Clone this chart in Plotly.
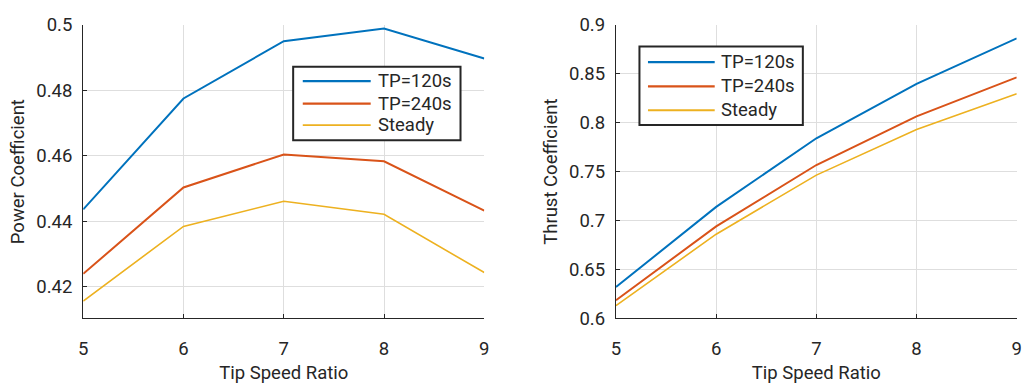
import plotly.graph_objects as go

tsr = [5, 6, 7, 8, 9]
series_names = ["TP=120s", "TP=240s", "Steady"]
cp_tp120 = [0.4436, 0.4775, 0.4950, 0.4989, 0.4897]
cp_tp240 = [0.4239, 0.4503, 0.4604, 0.4583, 0.4432]
cp_steady = [0.4156, 0.4384, 0.4461, 0.4421, 0.4243]
ct_tp120 = [0.6321, 0.7140, 0.7841, 0.8397, 0.8862]
ct_tp240 = [0.6186, 0.6941, 0.7568, 0.8065, 0.8464]
ct_steady = [0.6132, 0.6861, 0.7465, 0.7930, 0.8297]

colors = ["#0072BD", "#D95319", "#EDB120"]
widths = [2, 2, 1.6]
FONT = "Roboto"
TXT = "#262626"
W, H = 1026, 387

fig = go.Figure()
for name, ys, c, w in zip(series_names, [cp_tp120, cp_tp240, cp_steady], colors, widths):
    fig.add_trace(go.Scatter(x=tsr, y=ys, mode="lines", name=name, showlegend=False,
                             line=dict(color=c, width=w), xaxis="x", yaxis="y"))
for name, ys, c, w in zip(series_names, [ct_tp120, ct_tp240, ct_steady], colors, widths):
    fig.add_trace(go.Scatter(x=tsr, y=ys, mode="lines", name=name, showlegend=False,
                             line=dict(color=c, width=w), xaxis="x2", yaxis="y2"))


def px(x):
    return x / W


def py(y):
    return 1 - y / H


def add_legend(box, line_x, text_x, rows):
    x0, y0, x1, y1 = box
    fig.add_shape(type="rect", xref="paper", yref="paper",
                  x0=px(x0), x1=px(x1), y0=py(y1), y1=py(y0),
                  line=dict(color=TXT, width=2), fillcolor="white", layer="above")
    for name, c, w, ry in zip(series_names, colors, widths, rows):
        fig.add_shape(type="line", xref="paper", yref="paper",
                      x0=px(line_x[0]), x1=px(line_x[1]), y0=py(ry), y1=py(ry),
                      line=dict(color=c, width=w + 0.3), layer="above")
        fig.add_annotation(xref="paper", yref="paper", x=px(text_x), y=py(ry),
                           text=name, showarrow=False, xanchor="left", yanchor="middle",
                           font=dict(family=FONT, size=18.5, color=TXT))


ytop = 1 - 14.7 / H
ybot = 1 - 326 / H

common = dict(
    showline=True, linecolor=TXT, linewidth=1.3,
    ticks="inside", ticklen=4, tickcolor=TXT, tickwidth=1,
    showgrid=True, gridcolor="#dedede", gridwidth=1,
    zeroline=False, mirror=False,
    tickfont=dict(family=FONT, size=18.5, color=TXT),
    title_font=dict(family=FONT, size=18.5, color=TXT),
)
xcommon = dict(common, ticklabelstandoff=13)
ycommon = dict(common, ticklabelstandoff=6)

fig.update_layout(
    width=W, height=H,
    margin=dict(l=0, r=0, t=0, b=0),
    paper_bgcolor="white", plot_bgcolor="white",
    font=dict(family=FONT, color=TXT),
    showlegend=False,
    xaxis=dict(domain=[79 / W, 484 / W], range=[5, 9], tickvals=[5, 6, 7, 8, 9],
               anchor="y", title=dict(text="Tip Speed Ratio", standoff=7), **xcommon),
    yaxis=dict(domain=[ybot, ytop], range=[0.41027, 0.5],
               tickvals=[0.42, 0.44, 0.46, 0.48, 0.5], ticktext=["0.42", "0.44", "0.46", "0.48", "0.5"],
               anchor="x", title=dict(text="Power Coefficient", standoff=6), **ycommon),
    xaxis2=dict(domain=[617 / W, 1021.7 / W], range=[5, 9], tickvals=[5, 6, 7, 8, 9],
                anchor="y2", title=dict(text="Tip Speed Ratio", standoff=7), **xcommon),
    yaxis2=dict(domain=[ybot, ytop], range=[0.6, 0.9],
                tickvals=[0.6, 0.65, 0.7, 0.75, 0.8, 0.85, 0.9],
                ticktext=["0.6", "0.65", "0.7", "0.75", "0.8", "0.85", "0.9"],
                anchor="x2", title=dict(text="Thrust Coefficient", standoff=6), **ycommon),
)

add_legend((291, 59, 460, 137), (300.7, 369.3), 374.5, (74.3, 98.3, 121))
add_legend((640.7, 37.7, 805.7, 121), (649.3, 716.7), 721, (54.3, 80, 105.3))

fig.write_html("out.html")
